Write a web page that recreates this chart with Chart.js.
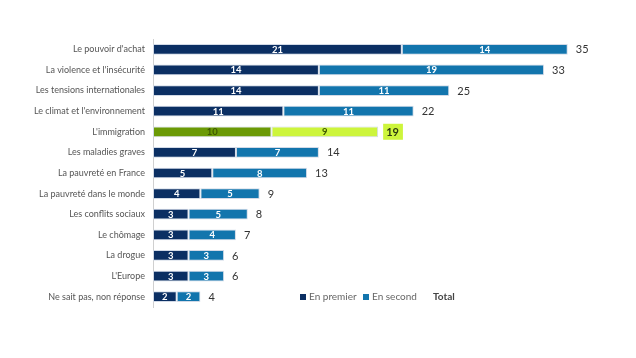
<!DOCTYPE html>
<html>
<head>
<meta charset="utf-8">
<script src="https://cdn.jsdelivr.net/npm/chart.js@4"></script>
<style>
  html, body { margin: 0; padding: 0; background: #fff; }
  #wrap { width: 636px; height: 358px; position: relative; }
</style>
</head>
<body>
<div id="wrap"><canvas id="chart"></canvas></div>
<script>
// --- Data ---
const categories = [
    "Le pouvoir d'achat",
    "La violence et l'insécurité",
    "Les tensions internationales",
    "Le climat et l'environnement",
    "L'immigration",
    "Les maladies graves",
    "La pauvreté en France",
    "La pauvreté dans le monde",
    "Les conflits sociaux",
    "Le chômage",
    "La drogue",
    "L'Europe",
    "Ne sait pas, non réponse"
];
const enPremier = [21, 14, 14, 11, 10, 7, 5, 4, 3, 3, 3, 3, 2];
const enSecond  = [14, 19, 11, 11, 9, 7, 8, 5, 5, 4, 3, 3, 2];
const totals    = [35, 33, 25, 22, 19, 14, 13, 9, 8, 7, 6, 6, 4];
const highlightIndex = 4;

// --- Colours ---
const NAVY = '#0b2f63';
const BLUE = '#1275ad';
const GREEN_DARK = '#6b9a05';
const GREEN_LIGHT = '#cdf53c';
const FONT = 'Lato, "Open Sans", sans-serif';

const premierColors = categories.map((c, i) => i === highlightIndex ? GREEN_DARK : NAVY);
const secondColors = categories.map((c, i) => i === highlightIndex ? GREEN_LIGHT : BLUE);

// Labels, totals and legend drawn on top of the bars
const labelsPlugin = {
    id: 'labels',
    afterDatasetsDraw(chart) {
        const ctx = chart.ctx;
        ctx.save();
        ctx.textBaseline = 'middle';

        // values inside the segments
        chart.data.datasets.forEach((ds, di) => {
            const meta = chart.getDatasetMeta(di);
            meta.data.forEach((bar, i) => {
                const cx = (bar.x + bar.base) / 2;
                ctx.font = 'bold 9.5px ' + FONT;
                ctx.textAlign = 'center';
                ctx.fillStyle = i === highlightIndex ? '#3f5a00' : '#ffffff';
                ctx.fillText(ds.data[i], cx, bar.y + 0.5);
            });
        });

        // totals at the end of each bar
        const last = chart.getDatasetMeta(1);
        last.data.forEach((bar, i) => {
            const x = bar.x + 8;
            ctx.font = '11px ' + FONT;
            ctx.textAlign = 'left';
            if (i === highlightIndex) {
                const w = ctx.measureText(String(totals[i])).width;
                ctx.fillStyle = GREEN_LIGHT;
                ctx.fillRect(x - 3, bar.y - 8, w + 7, 16);
                ctx.font = 'bold 11px ' + FONT;
                ctx.fillStyle = '#2e3b10';
            } else {
                ctx.fillStyle = '#333333';
            }
            ctx.fillText(totals[i], x, bar.y + 0.5);
        });

        // legend
        const ly = 297;
        ctx.font = '10px ' + FONT;
        ctx.textAlign = 'left';
        ctx.fillStyle = NAVY;
        ctx.fillRect(300, ly - 3, 6, 6);
        ctx.fillStyle = '#666666';
        ctx.fillText('En premier', 309, ly);
        ctx.fillStyle = BLUE;
        ctx.fillRect(363, ly - 3, 6, 6);
        ctx.fillStyle = '#666666';
        ctx.fillText('En second', 372, ly);
        ctx.font = 'bold 10px ' + FONT;
        ctx.fillStyle = '#444444';
        ctx.fillText('Total', 433, ly);

        ctx.restore();
    }
};

new Chart(document.getElementById('chart'), {
    type: 'bar',
    data: {
        labels: categories,
        datasets: [
            {
                label: 'En premier',
                data: enPremier,
                backgroundColor: premierColors,
                borderColor: 'rgba(205,214,228,0.9)',
                borderWidth: 1,
                borderSkipped: false,
                barPercentage: 1,
                categoryPercentage: 0.52
            },
            {
                label: 'En second',
                data: enSecond,
                backgroundColor: secondColors,
                borderColor: 'rgba(205,214,228,0.9)',
                borderWidth: 1,
                borderSkipped: false,
                barPercentage: 1,
                categoryPercentage: 0.52
            }
        ]
    },
    options: {
        indexAxis: 'y',
        responsive: true,
        maintainAspectRatio: false,
        animation: false,
        layout: { padding: { left: 0, right: 9, top: 39, bottom: 51 } },
        plugins: {
            legend: { display: false },
            tooltip: { enabled: false }
        },
        scales: {
            x: {
                stacked: true,
                display: false,
                min: 0,
                max: 40
            },
            y: {
                stacked: true,
                grid: { display: false, drawTicks: false },
                border: { display: true, color: '#d0d0d0', width: 1 },
                ticks: {
                    padding: 8,
                    color: '#555555',
                    font: { family: FONT, size: 9 }
                },
                afterFit(scale) { scale.width = 153; }
            }
        }
    },
    plugins: [labelsPlugin]
});
</script>
</body>
</html>
